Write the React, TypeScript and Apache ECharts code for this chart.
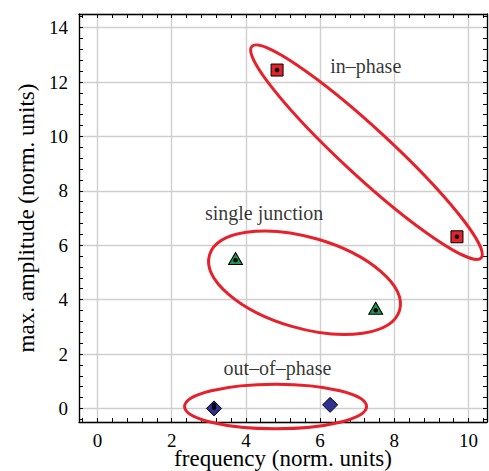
import React, { useEffect, useRef } from "react";
import * as echarts from "echarts";

// ---- data ----
const xTickLabels = [0, 2, 4, 6, 8, 10];
const yTickLabels = [0, 2, 4, 6, 8, 10, 12, 14];

const inPhase = [
  [4.84, 12.44],
  [9.69, 6.31],
];
const singleJunction = [
  [3.72, 5.51],
  [7.5, 3.68],
];
const outOfPhase = [
  [3.14, 0.0],
  [6.27, 0.13],
];
// small black dots drawn inside the markers
const centreDots = [
  [4.84, 12.44],
  [9.69, 6.31],
  [3.72, 5.45],
  [7.5, 3.61],
  [3.14, 0.02],
  [3.14, 0.12],
];

// group annotations
const annotationNames = ["in\u2013phase", "single junction", "out\u2013of\u2013phase"];
const annotationPos = [
  [7.23, 12.57],
  [4.49, 7.17],
  [4.85, 1.47],
];

// ellipse centres (data coords)
const ellipseCentres = [
  [7.25, 9.42],
  [5.58, 4.62],
  [4.8, 0.07],
];
// ellipse shapes (pixels / degrees)
const ellipseShapes = [
  { rx: 156, ry: 24, rot: 42.7 },
  { rx: 99, ry: 45.5, rot: 16.2 },
  { rx: 91, ry: 22.3, rot: 0 },
];

const X_MIN = -0.5;
const X_MAX = 10.5;
const Y_MIN = -0.5;
const Y_MAX = 14.5;
const MINOR_STEP = 0.4;

function minorTicks(from: number, to: number): number[] {
  const out: number[] = [];
  for (let i = Math.ceil(from / MINOR_STEP); i * MINOR_STEP <= to + 1e-9; i++) {
    out.push(Math.round(i * MINOR_STEP * 100) / 100);
  }
  return out;
}

const FONT = '"Liberation Serif", "DejaVu Serif", serif';

export default function App() {
  const ref = useRef<HTMLDivElement>(null);

  useEffect(() => {
    document.body.style.margin = "0";
    if (!ref.current) return;
    const chart = echarts.init(ref.current, null, { renderer: "svg" });

    const xTicks = minorTicks(X_MIN, X_MAX);
    const yTicks = minorTicks(Y_MIN, Y_MAX);

    const frameLine = { show: true, onZero: false, lineStyle: { color: "#000", width: 1.3 } };
    const noLine = { show: false, onZero: false };
    const tickStyle = { lineStyle: { color: "#000", width: 1 } };
    const gridLine = { show: true, lineStyle: { color: "#cfcfcf", width: 1.4 } };

    const tickAxisX = (pos: string) => ({
      type: "value",
      min: X_MIN,
      max: X_MAX,
      position: pos,
      axisLine: pos === "top" ? frameLine : noLine,
      axisTick: { show: true, inside: true, length: 4, customValues: xTicks, ...tickStyle },
      axisLabel: { show: false },
      splitLine: { show: false },
    });
    const tickAxisY = (pos: string) => ({
      type: "value",
      min: Y_MIN,
      max: Y_MAX,
      position: pos,
      axisLine: pos === "right" ? frameLine : noLine,
      axisTick: { show: true, inside: true, length: 4, customValues: yTicks, ...tickStyle },
      axisLabel: { show: false },
      splitLine: { show: false },
    });

    const option: any = {
      animation: false,
      backgroundColor: "#fff",
      textStyle: { fontFamily: FONT },
      grid: {
        left: 79,
        right: 2,
        top: 14,
        bottom: 49,
        containLabel: false,
        outerBoundsMode: "none",
      },
      xAxis: [
        {
          type: "value",
          min: X_MIN,
          max: X_MAX,
          splitNumber: 5,
          position: "bottom",
          name: "frequency (norm. units)",
          nameLocation: "middle",
          nameGap: 26,
          nameMoveOverlap: false,
          nameTextStyle: { fontFamily: FONT, fontSize: 23, lineHeight: 21, color: "#000" },
          axisLine: frameLine,
          axisTick: { show: false },
          axisLabel: {
            customValues: xTickLabels,
            margin: 11,
            lineHeight: 14,
            fontFamily: FONT,
            fontSize: 19,
            color: "#000",
          },
          splitLine: gridLine,
        },
        tickAxisX("top"),
        tickAxisX("bottom"),
      ],
      yAxis: [
        {
          type: "value",
          min: Y_MIN,
          max: Y_MAX,
          splitNumber: 7,
          position: "left",
          name: "max. amplitude (norm. units)",
          nameLocation: "middle",
          nameGap: 33,
          nameTextStyle: { fontFamily: FONT, fontSize: 23, color: "#000" },
          axisLine: frameLine,
          axisTick: { show: false },
          axisLabel: {
            customValues: yTickLabels,
            margin: 11,
            fontFamily: FONT,
            fontSize: 19,
            color: "#000",
          },
          splitLine: gridLine,
        },
        tickAxisY("right"),
        tickAxisY("left"),
      ],
      series: [
        {
          type: "custom",
          name: "ellipses",
          z: 3,
          silent: true,
          data: ellipseCentres,
          renderItem: (params: any, api: any) => {
            const c = api.coord([api.value(0), api.value(1)]);
            const e = ellipseShapes[params.dataIndex];
            return {
              type: "ellipse",
              x: c[0],
              y: c[1],
              rotation: (-e.rot * Math.PI) / 180,
              shape: { cx: 0, cy: 0, rx: e.rx, ry: e.ry },
              style: { fill: "none", stroke: "#e8202a", lineWidth: 3 },
            };
          },
        },
        {
          type: "scatter",
          name: "in-phase",
          z: 4,
          symbol: "rect",
          symbolSize: 12,
          itemStyle: { color: "#e3232b", borderColor: "#000", borderWidth: 1, opacity: 1 },
          data: inPhase,
        },
        {
          type: "scatter",
          name: "single junction",
          z: 4,
          symbol: "triangle",
          symbolSize: [14, 12],
          itemStyle: { color: "#17984a", borderColor: "#000", borderWidth: 1, opacity: 1 },
          data: singleJunction,
        },
        {
          type: "scatter",
          name: "out-of-phase",
          z: 4,
          symbol: "diamond",
          symbolSize: 15,
          itemStyle: { color: "#2e3192", borderColor: "#000", borderWidth: 1, opacity: 1 },
          data: outOfPhase,
        },
        {
          type: "scatter",
          name: "dots",
          z: 5,
          symbol: "circle",
          symbolSize: 4.5,
          itemStyle: { color: "#000", opacity: 1 },
          data: centreDots,
        },
        {
          type: "scatter",
          name: "labels",
          z: 6,
          symbolSize: 0,
          silent: true,
          data: annotationPos.map((p, i) => ({ value: p, name: annotationNames[i] })),
          label: {
            show: true,
            position: "inside",
            formatter: "{b}",
            fontFamily: FONT,
            fontSize: 20,
            color: "#000",
          },
        },
      ],
    };

    chart.setOption(option);
    return () => chart.dispose();
  }, []);

  return <div ref={ref} style={{ width: 489, height: 471 }} />;
}
